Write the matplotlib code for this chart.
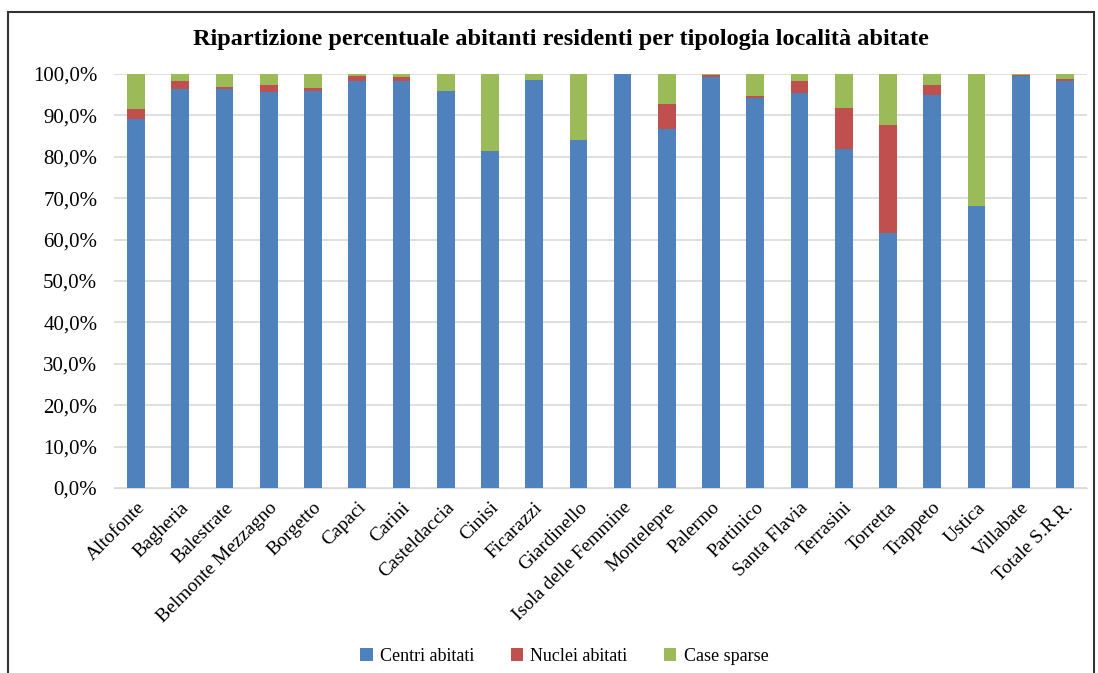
import numpy as np
import matplotlib.pyplot as plt
from matplotlib.patches import Rectangle
from matplotlib.ticker import FuncFormatter

# ═══ Data ═══════════════════════════════════════════════════════════════

comuni = ['Altofonte', 'Bagheria', 'Balestrate', 'Belmonte Mezzagno', 'Borgetto',
          'Capaci', 'Carini', 'Casteldaccia', 'Cinisi', 'Ficarazzi', 'Giardinello',
          'Isola delle Femmine', 'Montelepre', 'Palermo', 'Partinico', 'Santa Flavia',
          'Terrasini', 'Torretta', 'Trappeto', 'Ustica', 'Villabate', 'Totale S.R.R.']

centri = [89.1, 96.4, 96.4, 95.7, 95.9, 98.3, 98.3, 95.9, 81.4, 98.6, 84.1,
          100.0, 86.7, 99.3, 94.2, 95.4, 81.9, 61.6, 94.9, 68.1, 99.5, 98.3]
nuclei = [2.4, 1.9, 0.5, 1.6, 0.7, 1.2, 1.0, 0.0, 0.0, 0.0, 0.0,
          0.0, 6.1, 0.5, 0.5, 2.9, 9.9, 26.1, 2.4, 0.0, 0.2, 0.5]
sparse = [100 - c - n for c, n in zip(centri, nuclei)]

labels = ['Centri abitati', 'Nuclei abitati', 'Case sparse']
colors = ['#4f81bd', '#c0504d', '#9bbb59']

# ═══ Figure ═════════════════════════════════════════════════════════════

plt.rcParams['font.family'] = ['Liberation Serif', 'DejaVu Serif']

fig = plt.figure(figsize=(10.98, 6.73), dpi=100)
ax = fig.add_axes([0.1038, 0.2749, 0.8862, 0.6151])

x = np.arange(len(comuni))
c = np.array(centri) / 100
n = np.array(nuclei) / 100
s = np.array(sparse) / 100
w = 0.4
ax.bar(x, c, w, color=colors[0], label=labels[0], zorder=3)
ax.bar(x, n, w, bottom=c, color=colors[1], label=labels[1], zorder=3)
ax.bar(x, s, w, bottom=c + n, color=colors[2], label=labels[2], zorder=3)

# ─── Plot options ───────────────────────────────────────────────────────

ax.set_xlim(-0.5, len(comuni) - 0.5)
ax.set_ylim(0, 1)
ax.set_yticks(np.linspace(0, 1, 11))
ax.yaxis.set_major_formatter(FuncFormatter(lambda v, p: f'{v*100:.1f}%'.replace('.', ',')))
ax.grid(axis='y', color='#d9d9d9', linewidth=1.2, zorder=0)
for sp in ['top', 'right', 'left']:
  ax.spines[sp].set_visible(False)
ax.spines['bottom'].set_color('#d9d9d9')
ax.tick_params(axis='both', length=0)
ax.tick_params(axis='y', pad=12, labelsize=15)
ax.set_xticks(x)
ax.set_xticklabels(comuni, rotation=45, ha='right', rotation_mode='anchor')
ax.tick_params(axis='x', pad=8, labelsize=14)

fig.text(0.511, 0.941, 'Ripartizione percentuale abitanti residenti per tipologia località abitate',
         ha='center', va='center', fontsize=17.5, fontweight='bold')

fig.legend(loc='center', bbox_to_anchor=(0.514, 0.025), ncol=3, frameon=False,
           fontsize=13, handlelength=0.7, handleheight=0.7, handletextpad=0.4,
           columnspacing=2.0)

fig.patches.append(Rectangle((8 / 1098, -0.01), 1086 / 1098, 1 - 12 / 673 + 0.01,
                             transform=fig.transFigure, fill=False,
                             edgecolor='#333333', linewidth=1.5))

fig.savefig('out.png', dpi=100)
